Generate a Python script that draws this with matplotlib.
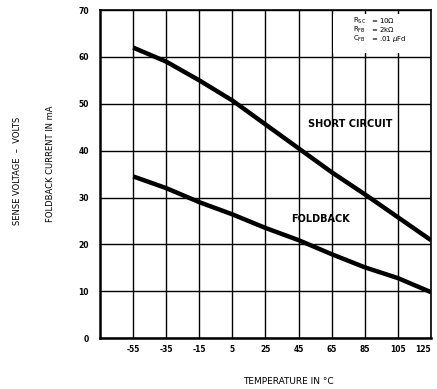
import matplotlib
matplotlib.use('Agg')
import matplotlib.pyplot as plt
from matplotlib.patches import Rectangle

# temperature in degC
temp = [-55, -35, -15, 5, 25, 45, 65, 85, 105, 125]
# foldback current in mA
short_circuit = [62.0, 59.0, 55.0, 50.7, 45.6, 40.5, 35.4, 30.7, 25.8, 20.9]
foldback = [34.5, 32.0, 29.0, 26.4, 23.5, 20.9, 17.9, 15.1, 12.8, 9.8]

xticks = [-55, -35, -15, 5, 25, 45, 65, 85, 105, 125]
xtick_labels = ['-55', '-35', '-15', '5', '25', '45', '65', '85', '105', '125']
yticks = [0, 10, 20, 30, 40, 50, 60, 70]

fig = plt.figure(figsize=(4.37, 3.89), dpi=100)
ax = fig.add_axes([0.229, 0.131, 0.757, 0.843])

ax.plot(temp, short_circuit, color='black', lw=3.2, solid_capstyle='butt', zorder=3)
ax.plot(temp, foldback, color='black', lw=3.2, solid_capstyle='butt', zorder=3)

ax.set_xlim(-75, 125)
ax.set_ylim(0, 70)
ax.set_xticks(xticks)
ax.set_xticklabels(xtick_labels)
ax.set_yticks(yticks)
ax.grid(True, color='black', lw=1.0)
ax.tick_params(length=0, labelsize=5.5)
ax.tick_params(axis='x', pad=5)
ax.tick_params(axis='y', pad=8)
for lab in ax.get_xticklabels() + ax.get_yticklabels():
    lab.set_fontweight('bold')
ax.get_xticklabels()[-1].set_horizontalalignment('right')
for s in ax.spines.values():
    s.set_linewidth(1.2)
ax.spines['left'].set_linewidth(1.8)
ax.spines['bottom'].set_linewidth(1.8)

# parameter box in the upper right corner (grid lines only show as stubs)
box = Rectangle((66, 60.9), 58.5, 8.2, facecolor='white', edgecolor='none', zorder=2.5)
ax.add_patch(box)
ax.text(78, 67.8, r'R$_{\mathrm{SC}}$', fontsize=5, va='center', zorder=4)
ax.text(78, 65.8, r'R$_{\mathrm{FB}}$', fontsize=5, va='center', zorder=4)
ax.text(78, 63.8, r'C$_{\mathrm{FB}}$', fontsize=5, va='center', zorder=4)
ax.text(89, 67.8, r'= 10$\Omega$', fontsize=5, va='center', zorder=4)
ax.text(89, 65.8, r'= 2k$\Omega$', fontsize=5, va='center', zorder=4)
ax.text(89, 63.8, r'= .01 $\mu$Fd', fontsize=5, va='center', zorder=4)

ax.text(76, 45.6, 'SHORT CIRCUIT', fontsize=7, fontweight='bold', ha='center', va='center', zorder=4)
ax.text(58, 25.4, 'FOLDBACK', fontsize=7, fontweight='bold', ha='center', va='center', zorder=4)

fig.text(0.115, 0.58, 'FOLDBACK CURRENT IN mA', rotation=90, fontsize=6,
         ha='center', va='center')
fig.text(0.04, 0.56, 'SENSE VOLTAGE  \u2013  VOLTS', rotation=90, fontsize=6,
         ha='center', va='center')
fig.text(0.66, 0.02, 'TEMPERATURE IN \u00b0C', fontsize=6.5, ha='center', va='center')

fig.savefig('out.png', dpi=100)
